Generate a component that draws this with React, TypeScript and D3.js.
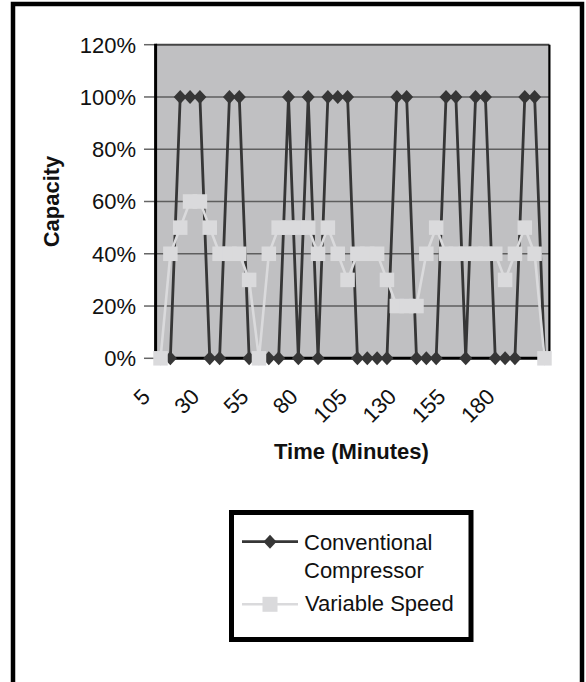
import React from "react";
import * as d3 from "d3";

const categories: string[] = [
  "5", "10", "15", "20", "25", "30", "35", "40", "45", "50",
  "55", "60", "65", "70", "75", "80", "85", "90", "95", "100",
  "105", "110", "115", "120", "125", "130", "135", "140", "145", "150",
  "155", "160", "165", "170", "175", "180", "185", "190", "195", "200",
];

const conventional: number[] = [
  0, 0, 100, 100, 100, 0, 0, 100, 100, 0,
  0, 0, 0, 100, 0, 100, 0, 100, 100, 100,
  0, 0, 0, 0, 100, 100, 0, 0, 0, 100,
  100, 0, 100, 100, 0, 0, 0, 100, 100, 0,
];

const variableSpeed: number[] = [
  0, 40, 50, 60, 60, 50, 40, 40, 40, 30,
  0, 40, 50, 50, 50, 50, 40, 50, 40, 30,
  40, 40, 40, 30, 20, 20, 20, 40, 50, 40,
  40, 40, 40, 40, 40, 30, 40, 50, 40, 0,
];

const xTickLabels: string[] = ["5", "30", "55", "80", "105", "130", "155", "180"];
const yTicks: number[] = [0, 20, 40, 60, 80, 100, 120];

const seriesNames = ["Conventional", "Compressor", "Variable Speed"];

const W = 586;
const H = 682;
const FONT = "'Liberation Sans', Arial, Helvetica, sans-serif";

const plotLeft = 155.6;
const plotRight = 549.4;
const plotTop = 44.7;
const plotBottom = 358.3;

const CONV_COLOR = "#363636";
const VS_COLOR = "#DADADC";
const PLOT_BG = "#C0C0C2";
const GRID = "#5E5E5E";

export default function App() {
  const x = d3
    .scaleBand<string>()
    .domain(categories)
    .range([plotLeft, plotRight])
    .paddingInner(0)
    .paddingOuter(0);
  const cx = (c: string) => (x(c) as number) + x.bandwidth() / 2;
  const y = d3.scaleLinear().domain([0, 120]).range([plotBottom, plotTop]);

  const convPts = categories.map((c, i) => [cx(c), y(conventional[i])] as [number, number]);
  const vsPts = categories.map((c, i) => [cx(c), y(variableSpeed[i])] as [number, number]);
  const line = d3.line<[number, number]>().x((d) => d[0]).y((d) => d[1]);

  const diamond = (px: number, py: number, hw = 6.5, hh = 7) =>
    `M${px},${py - hh}L${px + hw},${py}L${px},${py + hh}L${px - hw},${py}Z`;
  const SQ = 14.5;

  return (
    <svg
      width={W}
      height={H}
      style={{ position: "absolute", left: 0, top: 0, background: "#fff" }}
      fontFamily={FONT}
    >
      {/* outer frame */}
      <rect x={13} y={4} width={569} height={720} fill="#fff" stroke="#000" strokeWidth={4.5} />

      {/* plot background */}
      <rect
        x={plotLeft}
        y={plotTop}
        width={plotRight - plotLeft}
        height={plotBottom - plotTop}
        fill={PLOT_BG}
      />

      {/* gridlines */}
      {yTicks
        .filter((t) => t > 0 && t < 120)
        .map((t) => (
          <line key={`g${t}`} x1={plotLeft} x2={plotRight} y1={y(t)} y2={y(t)} stroke={GRID} strokeWidth={1.6} />
        ))}
      {/* top and right border */}
      <line x1={plotLeft} x2={plotRight} y1={plotTop} y2={plotTop} stroke="#444" strokeWidth={2} />
      <line x1={plotRight} x2={plotRight} y1={plotTop} y2={plotBottom} stroke="#000" strokeWidth={2.2} />

      {/* y tick marks & labels */}
      {yTicks.map((t) => (
        <g key={`yt${t}`}>
          <line x1={144} x2={plotLeft} y1={y(t)} y2={y(t)} stroke="#666" strokeWidth={1.5} />
          <text x={136} y={y(t)} dy="0.36em" textAnchor="end" fontSize={22} fill="#111">
            {`${t}%`}
          </text>
        </g>
      ))}

      {/* axes */}
      <line x1={plotLeft} x2={plotLeft} y1={plotTop - 1} y2={plotBottom + 1} stroke="#000" strokeWidth={3} />
      <line x1={plotLeft - 1} x2={plotRight + 1} y1={plotBottom} y2={plotBottom} stroke="#000" strokeWidth={3} />

      {/* conventional series */}
      <path d={line(convPts) as string} fill="none" stroke={CONV_COLOR} strokeWidth={2.8} strokeLinejoin="round" />
      {convPts.map((p, i) => (
        <path key={`cd${i}`} d={diamond(p[0], p[1])} fill={CONV_COLOR} />
      ))}

      {/* variable speed series */}
      <path d={line(vsPts) as string} fill="none" stroke={VS_COLOR} strokeWidth={2.6} strokeLinejoin="round" />
      {vsPts.map((p, i) => (
        <rect key={`vs${i}`} x={p[0] - SQ / 2} y={p[1] - SQ / 2} width={SQ} height={SQ} fill={VS_COLOR} />
      ))}

      {/* x tick labels */}
      {xTickLabels.map((lab) => {
        const ax = cx(lab) - 9;
        const ay = 398;
        return (
          <text
            key={`xl${lab}`}
            x={ax}
            y={ay}
            textAnchor="end"
            fontSize={22}
            fill="#111"
            transform={`rotate(-45 ${ax} ${ay})`}
          >
            {lab}
          </text>
        );
      })}

      {/* axis titles */}
      <text x={351.5} y={459} textAnchor="middle" fontSize={22} fontWeight="bold" fill="#111">
        Time (Minutes)
      </text>
      <text
        x={0}
        y={0}
        textAnchor="middle"
        fontSize={22}
        fontWeight="bold"
        fill="#111"
        transform={`translate(59 ${201.5}) rotate(-90)`}
      >
        Capacity
      </text>

      {/* legend */}
      <rect x={231.5} y={512.5} width={239.5} height={127} fill="#fff" stroke="#000" strokeWidth={5} />
      <line x1={242} x2={298} y1={541.7} y2={541.7} stroke={CONV_COLOR} strokeWidth={2.8} />
      <path d={diamond(270, 541.7)} fill={CONV_COLOR} />
      <text x={304} y={550} fontSize={22} fill="#111">
        {seriesNames[0]}
      </text>
      <text x={304} y={577.5} fontSize={22} fill="#111">
        {seriesNames[1]}
      </text>
      <line x1={242} x2={298} y1={604.3} y2={604.3} stroke={VS_COLOR} strokeWidth={2.6} />
      <rect x={270 - 7.5} y={604.3 - 7.5} width={15} height={15} fill={VS_COLOR} />
      <text x={305} y={611} fontSize={22} fill="#111">
        {seriesNames[2]}
      </text>
    </svg>
  );
}
